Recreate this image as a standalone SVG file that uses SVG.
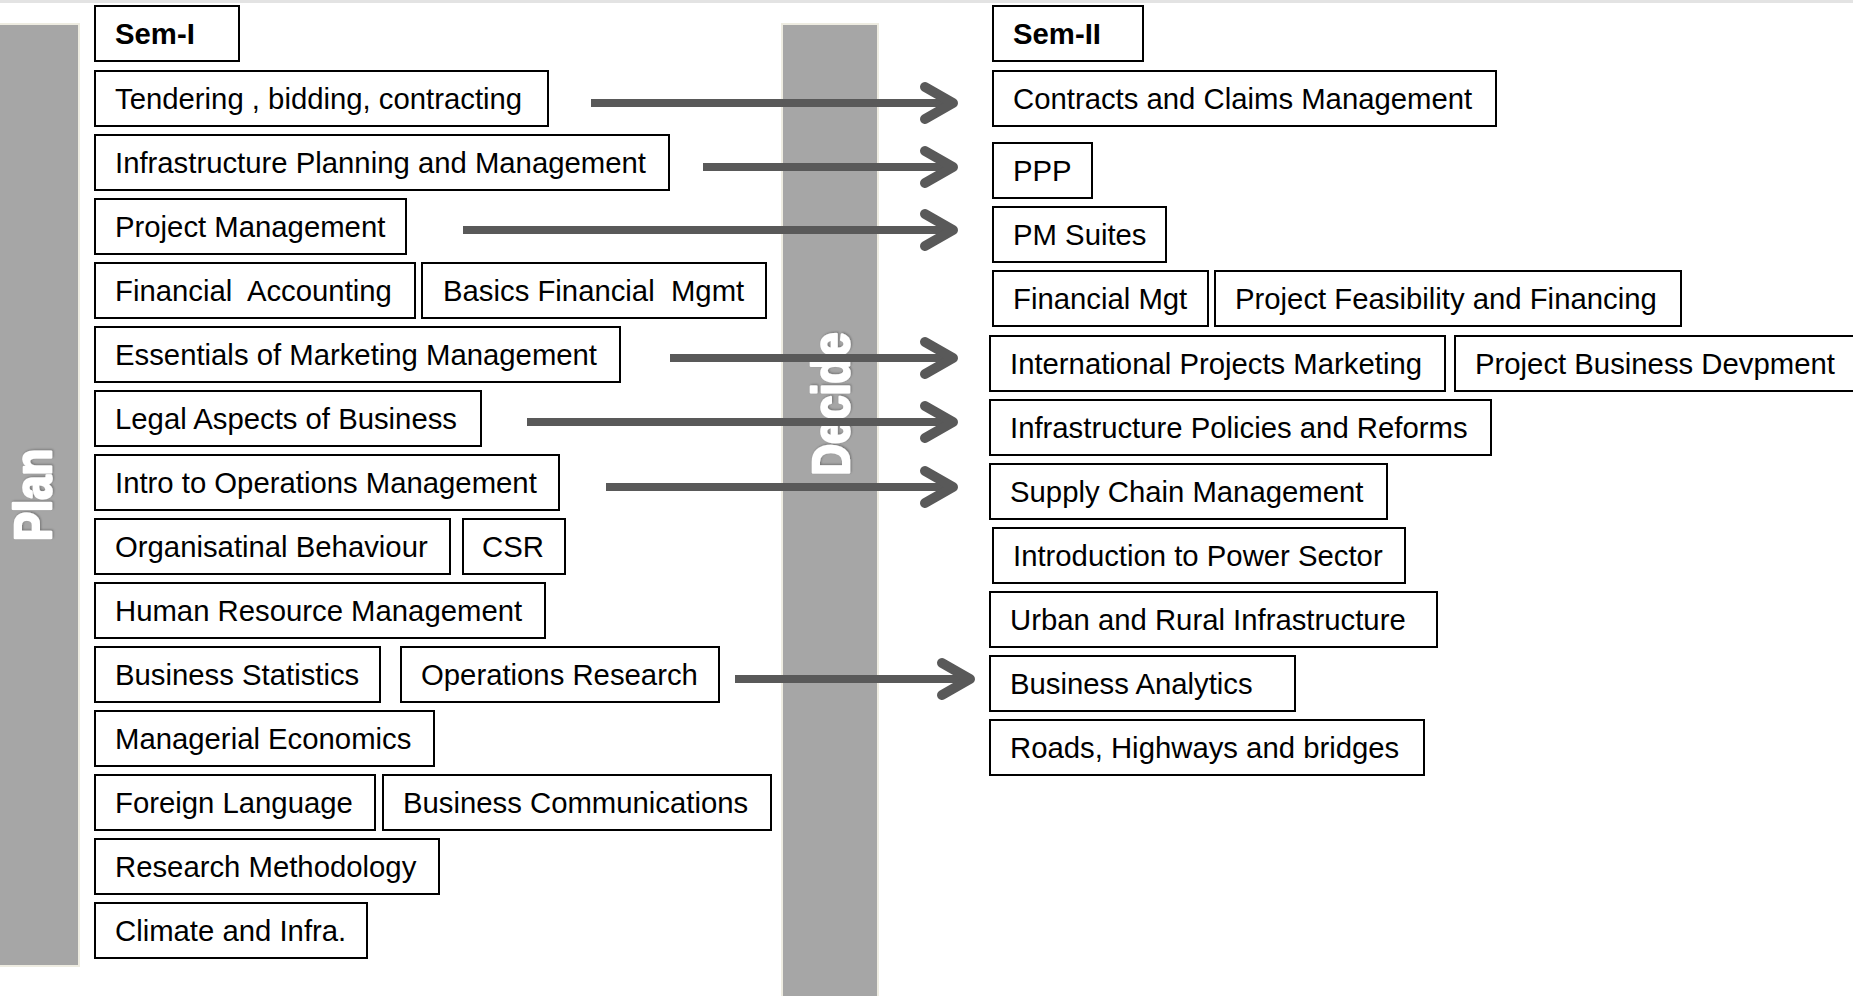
<svg xmlns="http://www.w3.org/2000/svg" width="1853" height="996" viewBox="0 0 1853 996">
<style>
.bx{fill:#fff;stroke:#000;stroke-width:2}
.t{font-family:"Liberation Sans",Arial,sans-serif;font-size:29.3px;fill:#000}
.b{font-weight:bold}
.bar{fill:#a6a6a6;stroke:#eeece1;stroke-width:2}
.bt{font-family:"Liberation Sans",Arial,sans-serif;font-size:52px;font-weight:bold;fill:#fff;stroke:#fff;stroke-width:2.6;stroke-linejoin:round;filter:url(#shd)}
.sh{stroke:#595959;stroke-width:8;fill:none}
</style>
<defs>
<filter id="shd" x="-20%" y="-20%" width="140%" height="140%">
<feDropShadow dx="1" dy="1" stdDeviation="1.2" flood-color="#000" flood-opacity="0.3"/>
</filter>
<marker id="chev" markerUnits="userSpaceOnUse" viewBox="0 0 50 50" markerWidth="50" markerHeight="50" refX="38" refY="25" orient="auto">
<path d="M10 9 L38 25 L10 41" fill="none" stroke="#595959" stroke-width="10" stroke-linecap="round" stroke-linejoin="round"/>
</marker>
</defs>
<rect x="0" y="0" width="1853" height="996" fill="#fff"/>
<rect x="0" y="0" width="1853" height="3" fill="#e3e3e3"/>

<g id="plan">
<rect class="bar" x="-2" y="24" width="81" height="942"/>
<text class="bt" x="0" y="0" transform="translate(51,495) rotate(-90)" text-anchor="middle" textLength="92" lengthAdjust="spacingAndGlyphs">Plan</text>
</g>
<g id="decide">
<rect class="bar" x="782" y="24" width="96" height="976"/>
<text class="bt" x="0" y="0" transform="translate(849,404) rotate(-90)" text-anchor="middle" textLength="143" lengthAdjust="spacingAndGlyphs">Decide</text>
</g>

<g id="sem1"><rect class="bx" x="95" y="6" width="144" height="55"/><text class="t b" x="115" y="44">Sem-I</text></g>
<g id="tendering"><rect class="bx" x="95" y="71" width="453" height="55"/><text class="t" x="115" y="109">Tendering , bidding, contracting</text></g>
<g id="infra-planning"><rect class="bx" x="95" y="135" width="574" height="55"/><text class="t" x="115" y="173">Infrastructure Planning and Management</text></g>
<g id="project-mgmt"><rect class="bx" x="95" y="199" width="311" height="55"/><text class="t" x="115" y="237">Project Management</text></g>
<g id="fin-accounting"><rect class="bx" x="95" y="263" width="320" height="55"/><text class="t" x="115" y="301" xml:space="preserve">Financial  Accounting</text></g>
<g id="basics-fin"><rect class="bx" x="422" y="263" width="344" height="55"/><text class="t" x="443" y="301" xml:space="preserve">Basics Financial  Mgmt</text></g>
<g id="marketing"><rect class="bx" x="95" y="327" width="525" height="55"/><text class="t" x="115" y="365">Essentials of Marketing Management</text></g>
<g id="legal"><rect class="bx" x="95" y="391" width="386" height="55"/><text class="t" x="115" y="429">Legal Aspects of Business</text></g>
<g id="intro-ops"><rect class="bx" x="95" y="455" width="464" height="55"/><text class="t" x="115" y="493">Intro to Operations Management</text></g>
<g id="org-behaviour"><rect class="bx" x="95" y="519" width="355" height="55"/><text class="t" x="115" y="557">Organisatinal Behaviour</text></g>
<g id="csr"><rect class="bx" x="463" y="519" width="102" height="55"/><text class="t" x="482" y="557">CSR</text></g>
<g id="hrm"><rect class="bx" x="95" y="583" width="450" height="55"/><text class="t" x="115" y="621">Human Resource Management</text></g>
<g id="bus-stat"><rect class="bx" x="95" y="647" width="285" height="55"/><text class="t" x="115" y="685">Business Statistics</text></g>
<g id="ops-research"><rect class="bx" x="401" y="647" width="318" height="55"/><text class="t" x="421" y="685">Operations Research</text></g>
<g id="managerial-eco"><rect class="bx" x="95" y="711" width="339" height="55"/><text class="t" x="115" y="749">Managerial Economics</text></g>
<g id="foreign-lang"><rect class="bx" x="95" y="775" width="280" height="55"/><text class="t" x="115" y="813">Foreign Language</text></g>
<g id="bus-comm"><rect class="bx" x="383" y="775" width="388" height="55"/><text class="t" x="403" y="813">Business Communications</text></g>
<g id="research-meth"><rect class="bx" x="95" y="839" width="344" height="55"/><text class="t" x="115" y="877">Research Methodology</text></g>
<g id="climate"><rect class="bx" x="95" y="903" width="272" height="55"/><text class="t" x="115" y="941">Climate and Infra.</text></g>

<g id="sem2"><rect class="bx" x="993" y="6" width="150" height="55"/><text class="t b" x="1013" y="44">Sem-II</text></g>
<g id="contracts"><rect class="bx" x="993" y="71" width="503" height="55"/><text class="t" x="1013" y="109">Contracts and Claims Management</text></g>
<g id="ppp"><rect class="bx" x="993" y="143" width="99" height="55"/><text class="t" x="1013" y="181">PPP</text></g>
<g id="pm-suites"><rect class="bx" x="993" y="207" width="173" height="55"/><text class="t" x="1013" y="245">PM Suites</text></g>
<g id="fin-mgt"><rect class="bx" x="993" y="271" width="215" height="55"/><text class="t" x="1013" y="309">Financial Mgt</text></g>
<g id="proj-feasibility"><rect class="bx" x="1215" y="271" width="466" height="55"/><text class="t" x="1235" y="309">Project Feasibility and Financing</text></g>
<g id="intl-marketing"><rect class="bx" x="990" y="336" width="455" height="55"/><text class="t" x="1010" y="374">International Projects Marketing</text></g>
<g id="proj-bus-dev"><rect class="bx" x="1455" y="336" width="410" height="55"/><text class="t" x="1475" y="374">Project Business Devpment</text></g>
<g id="infra-policies"><rect class="bx" x="990" y="400" width="501" height="55"/><text class="t" x="1010" y="438">Infrastructure Policies and Reforms</text></g>
<g id="supply-chain"><rect class="bx" x="990" y="464" width="397" height="55"/><text class="t" x="1010" y="502">Supply Chain Management</text></g>
<g id="power-sector"><rect class="bx" x="993" y="528" width="412" height="55"/><text class="t" x="1013" y="566">Introduction to Power Sector</text></g>
<g id="urban-rural"><rect class="bx" x="990" y="592" width="447" height="55"/><text class="t" x="1010" y="630">Urban and Rural Infrastructure</text></g>
<g id="bus-analytics"><rect class="bx" x="990" y="656" width="305" height="55"/><text class="t" x="1010" y="694">Business Analytics</text></g>
<g id="roads"><rect class="bx" x="990" y="720" width="434" height="55"/><text class="t" x="1010" y="758">Roads, Highways and bridges</text></g>

<g id="connectors">
<line class="sh" x1="591" y1="103" x2="953" y2="103" marker-end="url(#chev)"/>
<line class="sh" x1="703" y1="167" x2="953" y2="167" marker-end="url(#chev)"/>
<line class="sh" x1="463" y1="230" x2="953" y2="230" marker-end="url(#chev)"/>
<line class="sh" x1="670" y1="358" x2="953" y2="358" marker-end="url(#chev)"/>
<line class="sh" x1="527" y1="422" x2="953" y2="422" marker-end="url(#chev)"/>
<line class="sh" x1="606" y1="487" x2="953" y2="487" marker-end="url(#chev)"/>
<line class="sh" x1="735" y1="679" x2="970" y2="679" marker-end="url(#chev)"/>
</g>
</svg>
